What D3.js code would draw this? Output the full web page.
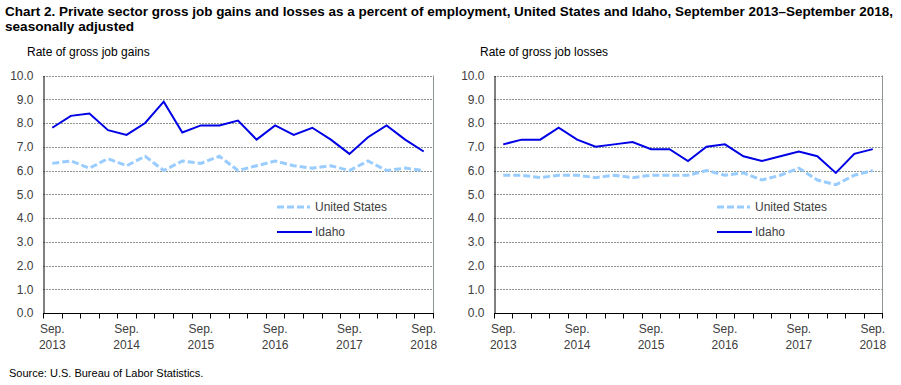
<!DOCTYPE html>
<html><head><meta charset="utf-8">
<script src="https://cdn.jsdelivr.net/npm/d3@7"></script>
<style>body{margin:0;background:#fff}svg{display:block}</style>
</head><body>
<svg id="c" width="901" height="385"></svg>
<script>
const quarters = ["Sep 2013","Dec 2013","Mar 2014","Jun 2014","Sep 2014","Dec 2014","Mar 2015","Jun 2015","Sep 2015","Dec 2015","Mar 2016","Jun 2016","Sep 2016","Dec 2016","Mar 2017","Jun 2017","Sep 2017","Dec 2017","Mar 2018","Jun 2018","Sep 2018"];
const tickLabels = [["Sep.","2013"],["Sep.","2014"],["Sep.","2015"],["Sep.","2016"],["Sep.","2017"],["Sep.","2018"]];
const yTicks = [0,1,2,3,4,5,6,7,8,9,10];
const idahoGains = [7.8,8.3,8.4,7.7,7.5,8.0,8.9,7.6,7.9,7.9,8.1,7.3,7.9,7.5,7.8,7.3,6.7,7.4,7.9,7.3,6.8];
const usGains    = [6.3,6.4,6.1,6.5,6.2,6.6,6.0,6.4,6.3,6.6,6.0,6.2,6.4,6.2,6.1,6.2,6.0,6.4,6.0,6.1,6.0];
const idahoLosses= [7.1,7.3,7.3,7.8,7.3,7.0,7.1,7.2,6.9,6.9,6.4,7.0,7.1,6.6,6.4,6.6,6.8,6.6,5.9,6.7,6.9];
const usLosses   = [5.8,5.8,5.7,5.8,5.8,5.7,5.8,5.7,5.8,5.8,5.8,6.0,5.8,5.9,5.6,5.8,6.1,5.6,5.4,5.8,6.0];

const svg = d3.select("#c");
const FONT = "'Liberation Sans', Arial, sans-serif";

svg.append("text").attr("x",5).attr("y",16)
  .attr("font-family","'Liberation Sans Narrow','Arial Narrow',"+FONT).attr("font-weight","bold").attr("font-size",13)
  .attr("textLength",888).attr("lengthAdjust","spacingAndGlyphs")
  .text("Chart 2. Private sector gross  job gains and losses  as a percent of employment, United States and Idaho, September 2013\u2013September 2018,");
svg.append("text").attr("x",5).attr("y",31)
  .attr("font-family","'Liberation Sans Narrow','Arial Narrow',"+FONT).attr("font-weight","bold").attr("font-size",13)
  .attr("textLength",129).attr("lengthAdjust","spacingAndGlyphs")
  .text("seasonally adjusted");

svg.append("text").attr("x",9).attr("y",377).attr("font-family",FONT).attr("font-size",11).attr("fill","#000")
  .text("Source: U.S. Bureau of Labor Statistics.");

function panel(x0, x1, subX, title, idaho, us, legX) {
  const g = svg.append("g");
  const x = d3.scaleBand().domain(quarters).range([x0, x1]);
  const y = d3.scaleLinear().domain([0,10]).range([313, 75.5]);
  g.append("text").attr("x",subX).attr("y",56).attr("font-family",FONT).attr("font-size",12).attr("fill","#000").text(title);
  g.selectAll("line.grid").data(yTicks.filter(d=>d>0)).join("line")
    .attr("x1",x0).attr("x2",x1).attr("y1",d=>Math.round(y(d))+0.5).attr("y2",d=>Math.round(y(d))+0.5)
    .attr("stroke","#8c968c").attr("stroke-width",1).attr("stroke-dasharray","2,1");
  g.append("line").attr("x1",x1+0.5).attr("x2",x1+0.5).attr("y1",y(10)).attr("y2",y(0)).attr("stroke","#8c968c");
  const ya = d3.axisLeft(y).tickValues(yTicks).tickFormat(d3.format(".1f")).tickSize(0).tickPadding(10);
  const yg = g.append("g").attr("transform",`translate(${x0+0.5},0)`).call(ya);
  yg.select(".domain").attr("stroke","#000");
  yg.selectAll("text").attr("font-family",FONT).attr("font-size",12).attr("fill","#404040");
  const xg = g.append("g").attr("transform",`translate(0,${Math.round(y(0))+0.5})`);
  xg.append("line").attr("x1",x0).attr("x2",x1+1).attr("stroke","#000");
  const bounds = quarters.map(q=>x(q)).concat([x1]);
  xg.selectAll("line.t").data(bounds).join("line").attr("class","t")
    .attr("x1",d=>Math.round(d)+0.5).attr("x2",d=>Math.round(d)+0.5).attr("y1",0).attr("y2",5).attr("stroke","#000");
  const labIdx = [0,4,8,12,16,20];
  labIdx.forEach((qi,i)=>{
    const cx = x(quarters[qi]) + x.bandwidth()/2;
    const t = xg.append("text").attr("text-anchor","middle").attr("font-family",FONT).attr("font-size",12).attr("fill","#404040");
    t.append("tspan").attr("x",cx).attr("y",19).text(tickLabels[i][0]);
    t.append("tspan").attr("x",cx).attr("y",35).text(tickLabels[i][1]);
  });
  const line = d3.line().x((d,i)=>x(quarters[i])+x.bandwidth()/2).y(d=>y(d));
  g.append("path").attr("d",line(us)).attr("fill","none").attr("stroke","#99ccff").attr("stroke-width",3).attr("stroke-dasharray","7,3");
  g.append("path").attr("d",line(idaho)).attr("fill","none").attr("stroke","#0000e6").attr("stroke-width",2);
  g.append("line").attr("x1",legX).attr("x2",legX+33).attr("y1",207).attr("y2",207).attr("stroke","#99ccff").attr("stroke-width",3).attr("stroke-dasharray","7,3");
  g.append("text").attr("x",legX+38).attr("y",211).attr("font-family",FONT).attr("font-size",12).attr("fill","#404040").text("United States");
  g.append("line").attr("x1",legX).attr("x2",legX+35).attr("y1",232).attr("y2",232).attr("stroke","#0000e6").attr("stroke-width",2);
  g.append("text").attr("x",legX+38).attr("y",236).attr("font-family",FONT).attr("font-size",12).attr("fill","#404040").text("Idaho");
}
panel(43, 433, 27, "Rate of gross job gains", idahoGains, usGains, 277);
panel(494, 882, 480, "Rate of gross job losses", idahoLosses, usLosses, 717);
</script>
</body></html>
